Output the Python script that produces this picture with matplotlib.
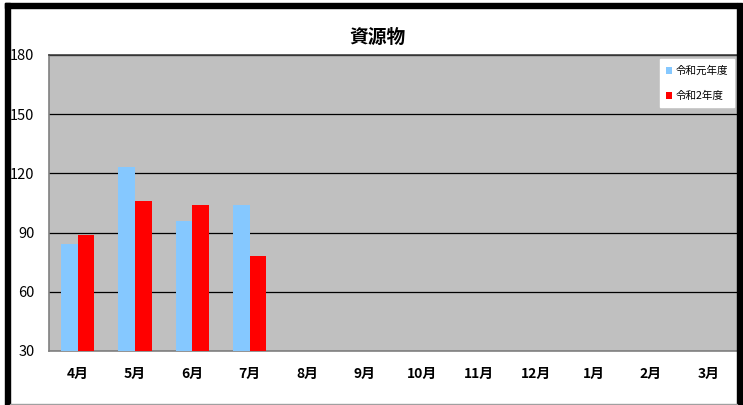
import matplotlib
matplotlib.use("Agg")
import matplotlib.pyplot as plt
from matplotlib.patches import Rectangle
import numpy as np

plt.rcParams['font.family'] = ['Noto Sans CJK JP', 'DejaVu Sans']

# data
months = ["4月", "5月", "6月", "7月", "8月", "9月", "10月", "11月", "12月", "1月", "2月", "3月"]
r1_values = [84, 123, 96, 104]   # 令和元年度
r2_values = [89, 106, 104, 78]   # 令和2年度
series_names = ["令和元年度", "令和2年度"]
yticks = [30, 60, 90, 120, 150, 180]

fig = plt.figure(figsize=(7.43, 4.05), dpi=100)
ax = fig.add_axes([49/743, 1-351/405, (737-49)/743, (351-55)/405])

x = np.arange(len(months))
w = 0.29
ax.bar(x[:len(r1_values)] - w/2, np.array(r1_values) - 30, w, bottom=30,
       color="#85C8FF", label=series_names[0], zorder=3)
ax.bar(x[:len(r2_values)] + w/2, np.array(r2_values) - 30, w, bottom=30,
       color="#FF0000", label=series_names[1], zorder=3)

ax.set_xlim(-0.5, len(months) - 0.5)
ax.set_ylim(30, 180)
ax.set_facecolor("#C0C0C0")
ax.set_yticks(yticks)
ax.set_yticklabels([str(v) for v in yticks], fontsize=10.5)
ax.set_xticks(x)
ax.set_xticklabels(months, fontsize=10, fontweight="bold")
ax.tick_params(axis="y", length=0, pad=10.5)
ax.tick_params(axis="x", length=0, pad=11.5)
ax.grid(axis="y", color="black", linewidth=0.9, zorder=1)
for s in ["left", "bottom"]:
    ax.spines[s].set_color("#808080")
    ax.spines[s].set_linewidth(1.2)
ax.spines["top"].set_color("#404040")
ax.spines["top"].set_linewidth(1.2)
ax.spines["right"].set_visible(False)

leg = ax.legend(loc="upper right", bbox_to_anchor=(0.996, 0.985), fontsize=7.6,
                frameon=True, fancybox=False, handlelength=0.6, handleheight=0.6,
                labelspacing=1.4, handletextpad=0.3, borderpad=0.6, borderaxespad=0)
leg.get_frame().set_facecolor("white")
leg.get_frame().set_edgecolor("white")
leg.get_frame().set_alpha(1)

fig.text(377/743, 1-37/405, "資源物", ha="center", va="center",
         fontsize=13.5, fontweight="bold")

# black frame around the chart
fig.patches.append(Rectangle((5/743, 0), 5/743, 1-3/405, transform=fig.transFigure,
                             color="black", zorder=10))
fig.patches.append(Rectangle((5/743, 1-8/405), 737/743-5/743, 5/405, transform=fig.transFigure,
                             color="black", zorder=10))
fig.patches.append(Rectangle((737/743, 0), 5/743, 1-3/405, transform=fig.transFigure,
                             color="black", zorder=10))
fig.patches.append(Rectangle((10/743, 0), 727/743, 1.5/405, transform=fig.transFigure,
                             color="#A0A0A0", zorder=10))

fig.savefig("out.png", dpi=100)
